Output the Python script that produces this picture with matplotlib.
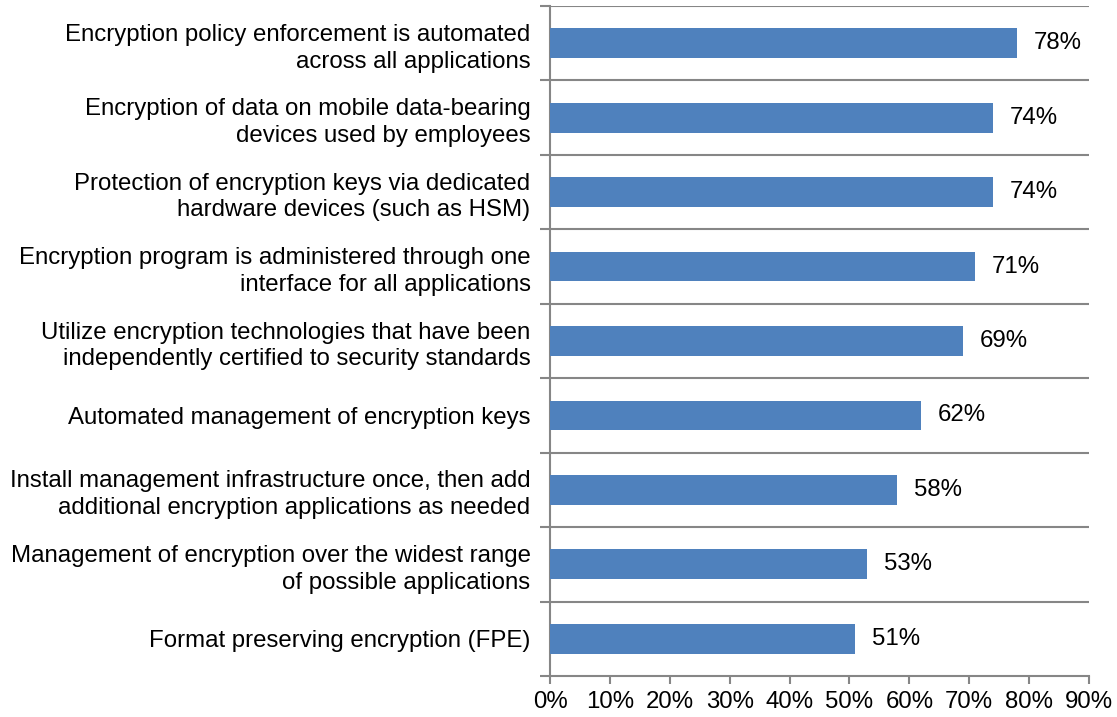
import matplotlib
matplotlib.use("Agg")
import matplotlib.pyplot as plt
import numpy as np

plt.rcParams['font.family'] = ['Liberation Sans', 'DejaVu Sans']

categories = [
    "Encryption policy enforcement is automated\nacross all applications",
    "Encryption of data on mobile data-bearing\ndevices used by employees",
    "Protection of encryption keys via dedicated\nhardware devices (such as HSM)",
    "Encryption program is administered through one\ninterface for all applications",
    "Utilize encryption technologies that have been\nindependently certified to security standards",
    "Automated management of encryption keys",
    "Install management infrastructure once, then add\nadditional encryption applications as needed",
    "Management of encryption over the widest range\nof possible applications",
    "Format preserving encryption (FPE)",
]
values = [78, 74, 74, 71, 69, 62, 58, 53, 51]
xticks = [0, 10, 20, 30, 40, 50, 60, 70, 80, 90]

FS = 17.3

fig = plt.figure(figsize=(11.17, 7.17), dpi=100)
ax = fig.add_axes([0.4924, 0.0572, 0.4826, 0.9344])

n = len(categories)
ypos = np.arange(n)[::-1]
bar_color = '#4F81BD'
grid_color = '#868686'

ax.barh(ypos, values, height=0.4, color=bar_color, zorder=3)
for y, v in zip(ypos, values):
    ax.text(v + 2.7, y, f"{v}%", va='center', ha='left', fontsize=FS, color='black')

ax.set_xlim(0, 90)
ax.set_ylim(-0.5, n - 0.5)

# Horizontal separators at category boundaries
bounds = np.arange(n) + 0.5
for b in bounds:
    ax.axhline(b, color=grid_color, lw=1.5, zorder=1)

ax.set_yticks(ypos)
ax.set_yticklabels(categories, fontsize=FS, ha='right', multialignment='right',
                   linespacing=1.28)
ax.tick_params(axis='y', which='major', length=0, pad=14)
ax.set_yticks(np.arange(n + 1) - 0.5, minor=True)
ax.tick_params(axis='y', which='minor', length=7, width=1.5, color=grid_color, direction='out')

ax.set_xticks(xticks)
ax.set_xticklabels([f"{t}%" for t in xticks], fontsize=FS)
ax.tick_params(axis='x', length=6, width=1.5, color=grid_color, direction='out', pad=5)

for side in ['top', 'right']:
    ax.spines[side].set_visible(False)
for side in ['left', 'bottom']:
    ax.spines[side].set_color(grid_color)
    ax.spines[side].set_linewidth(1.5)

fig.savefig('out.png', dpi=100)
